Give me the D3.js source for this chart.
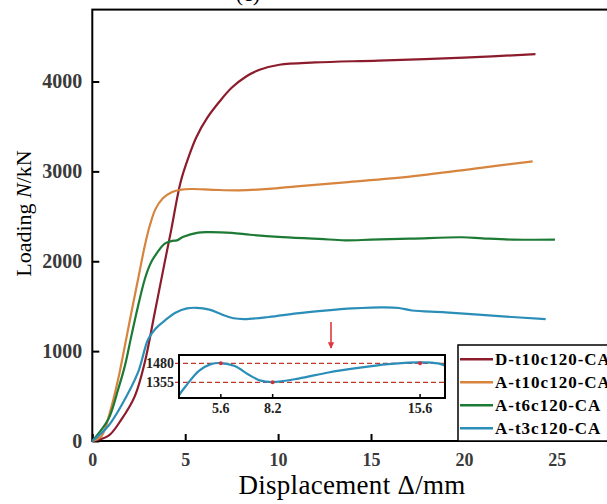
<!DOCTYPE html>
<html>
<head>
<meta charset="utf-8">
<script src="https://cdn.jsdelivr.net/npm/d3@7"></script>
<style>
  body { margin: 0; background: #fff; }
  svg { display: block; }
</style>
</head>
<body>
<div id="chart"></div>
<script>
// series names and colours
var seriesNames = ["D-t10c120-CA", "A-t10c120-CA", "A-t6c120-CA", "A-t3c120-CA"];
var seriesColors = ["#8c1c2c", "#d6843e", "#1d7a34", "#2a8eb8"];

// [displacement mm, load kN]
var dT10 = [[0,0],[0.86,56],[1.57,241],[2.29,500],[2.82,871],[3.36,1427],[3.89,1982],[4.25,2352],[4.75,2880],
  [5.2,3170],[5.6,3380],[6.2,3600],[6.86,3780],[7.5,3930],[8.28,4056],[9,4130],[10.07,4186],[12,4212],
  [15.4,4233],[20,4265],[23.85,4304]];
var aT10 = [[0,0],[0.5,56],[0.95,319],[1.39,686],[1.75,1056],[2.1,1427],[2.46,1797],[2.82,2167],[3.1,2400],
  [3.4,2580],[3.8,2700],[4.3,2770],[4.8,2796],[5.3,2804],[6.5,2795],[7.9,2789],[9.5,2805],[11,2833],
  [13.6,2878],[17.2,2944],[20.8,3037],[23.7,3111]];
var aT6 = [[0,0],[0.86,241],[1.39,574],[1.75,833],[2.1,1167],[2.46,1500],[2.82,1797],[3.1,1960],[3.36,2056],
  [3.9,2195],[4.3,2226],[4.55,2232],[4.9,2272],[5.7,2318],[6.2,2324],[7.5,2316],[8.5,2295],[10,2271],
  [12.2,2249],[13.6,2233],[15,2240],[17.2,2252],[19.9,2267],[21,2255],[22.6,2241],[24.9,2241]];
var aT3 = [[0,0],[0.86,167],[1.55,389],[2.46,763],[3,1130],[3.4,1250],[3.9,1340],[4.5,1430],[5.1,1475],
  [5.6,1482],[6.3,1462],[7,1405],[7.6,1366],[8.2,1357],[9.5,1380],[11,1420],[12.5,1450],[14,1475],
  [15,1485],[15.6,1487],[16.5,1480],[17.2,1452],[19,1432],[21.7,1392],[24.4,1355]];
var allSeries = [dT10, aT10, aT6, aT3];

var xTicks = [0, 5, 10, 15, 20, 25];
var yTicks = [0, 1000, 2000, 3000, 4000];

// inset: marked points on A-t3c120-CA
var insetTicks = [5.6, 8.2, 15.6];
var insetLevels = [1480, 1355];
var insetMarks = [[5.6,1480],[8.2,1355],[15.6,1480]];

var svgWidth = 607;
var svgHeight = 504;
var serif = "Liberation Serif";

var svg = d3.select("#chart")
  .append("svg")
  .attr("width", svgWidth)
  .attr("height", svgHeight)
  .attr("font-family", serif);

var x = d3.scaleLinear().domain([0, 28.4]).range([92.3, 620]);
var y = d3.scaleLinear().domain([0, 4800]).range([441, 9.6]);

var line = d3.line()
  .x(d => x(d[0]))
  .y(d => y(d[1]))
  .curve(d3.curveCatmullRom.alpha(0.5));

// frame (runs off the right side of the picture)
svg.append("rect")
  .attr("x", x(0)).attr("y", y(4800))
  .attr("width", x(28.4) - x(0)).attr("height", y(0) - y(4800))
  .attr("fill", "none").attr("stroke", "#000").attr("stroke-width", 2);

// title, cropped at the top
svg.append("text")
  .attr("x", 248).attr("y", 1)
  .attr("text-anchor", "middle")
  .attr("font-size", 22)
  .text("(c)");

// axes with inward ticks
var bottomAxis = d3.axisBottom(x).tickValues(xTicks).tickFormat(d3.format("d"))
  .tickSizeInner(-7).tickSizeOuter(0).tickPadding(12);
var leftAxis = d3.axisLeft(y).tickValues(yTicks).tickFormat(d3.format("d"))
  .tickSizeInner(-7).tickSizeOuter(0).tickPadding(10);

var gx = svg.append("g").attr("transform", `translate(0, ${y(0)})`).call(bottomAxis);
var gy = svg.append("g").attr("transform", `translate(${x(0)}, 0)`).call(leftAxis);
[gx, gy].forEach(g => {
  g.attr("font-family", serif);
  g.select(".domain").remove();
  g.selectAll("line").attr("stroke", "#000").attr("stroke-width", 2);
  g.selectAll("text")
    .attr("font-weight", "bold")
    .attr("fill", "#3a3a3a");
});
gx.selectAll("text").attr("font-size", 18);
gy.selectAll("text").attr("font-size", 20).attr("dy", "0.32em");

// curves
svg.selectAll(".curve")
  .data(allSeries)
  .enter()
  .append("path")
  .attr("class", "curve")
  .attr("d", line)
  .attr("fill", "none")
  .attr("stroke", (d, i) => seriesColors[i])
  .attr("stroke-width", 2.2);

// axis titles
svg.append("text")
  .attr("x", 352).attr("y", 494)
  .attr("text-anchor", "middle")
  .attr("font-size", 27)
  .attr("letter-spacing", 0.3)
  .text("Displacement \u0394/mm");

var yt = svg.append("text")
  .attr("transform", "translate(31,213.5) rotate(-90)")
  .attr("text-anchor", "middle")
  .attr("font-size", 22);
yt.append("tspan").text("Loading ");
yt.append("tspan").attr("font-style", "italic").text("N");
yt.append("tspan").text("/kN");

// red arrow pointing at the inset region
svg.append("defs").append("marker")
  .attr("id", "arrow")
  .attr("viewBox", "0 0 10 10")
  .attr("refX", 9).attr("refY", 5)
  .attr("markerWidth", 4).attr("markerHeight", 5)
  .attr("orient", "auto")
  .append("path").attr("d", "M0,0 L10,5 L0,10 z").attr("fill", "#e0383c");
svg.append("line")
  .attr("x1", 331).attr("x2", 331)
  .attr("y1", 322).attr("y2", 348)
  .attr("stroke", "#e0383c").attr("stroke-width", 1.6)
  .attr("marker-end", "url(#arrow)");

// inset
var ix = d3.scaleLinear().domain([3.5, 16.85]).range([179, 445]);
var iy = d3.scaleLinear().domain([1252, 1535]).range([398, 355]);

var inset = svg.append("g");
inset.append("clipPath").attr("id", "insetClip")
  .append("rect").attr("x", 179).attr("y", 355).attr("width", 266).attr("height", 43);
inset.append("rect")
  .attr("x", 179).attr("y", 355).attr("width", 266).attr("height", 43)
  .attr("fill", "#fff");

inset.selectAll(".level")
  .data(insetLevels)
  .enter()
  .append("line")
  .attr("class", "level")
  .attr("x1", 175).attr("x2", 445)
  .attr("y1", d => iy(d)).attr("y2", d => iy(d))
  .attr("stroke", "#c0392b").attr("stroke-width", 1.3)
  .attr("stroke-dasharray", "5,3");

var insetLine = d3.line()
  .x(d => ix(d[0]))
  .y(d => iy(d[1]))
  .curve(d3.curveCatmullRom.alpha(0.5));
inset.append("path")
  .attr("d", insetLine(aT3))
  .attr("clip-path", "url(#insetClip)")
  .attr("fill", "none")
  .attr("stroke", seriesColors[3])
  .attr("stroke-width", 2.2);

inset.selectAll(".mark")
  .data(insetMarks)
  .enter()
  .append("circle")
  .attr("cx", d => ix(d[0])).attr("cy", d => iy(d[1]))
  .attr("r", 2).attr("fill", "#d0303a");

inset.append("rect")
  .attr("x", 179).attr("y", 355).attr("width", 266).attr("height", 43)
  .attr("fill", "none").attr("stroke", "#000").attr("stroke-width", 2);

inset.selectAll(".itick")
  .data(insetTicks)
  .enter()
  .append("line")
  .attr("x1", d => ix(d)).attr("x2", d => ix(d))
  .attr("y1", 398).attr("y2", 394)
  .attr("stroke", "#000").attr("stroke-width", 1.5);

inset.selectAll(".ilabel")
  .data(insetTicks)
  .enter()
  .append("text")
  .attr("x", d => ix(d)).attr("y", 413)
  .attr("text-anchor", "middle")
  .attr("font-size", 14).attr("font-weight", "bold").attr("fill", "#222")
  .text(d => d);

inset.selectAll(".ylabel")
  .data(insetLevels)
  .enter()
  .append("text")
  .attr("x", 174).attr("y", d => iy(d))
  .attr("dy", "0.33em")
  .attr("text-anchor", "end")
  .attr("font-size", 14).attr("font-weight", "bold").attr("fill", "#222")
  .text(d => d);

// legend (box runs off to the right)
var legend = svg.append("g");
legend.append("rect")
  .attr("x", 458).attr("y", 345).attr("width", 200).attr("height", y(0) - 345)
  .attr("fill", "#fff").attr("stroke", "#000").attr("stroke-width", 1.5);

var rows = legend.selectAll(".row")
  .data(seriesNames)
  .enter()
  .append("g")
  .attr("transform", (d, i) => `translate(0, ${359.3 + i * 23})`);
rows.append("line")
  .attr("x1", 460).attr("x2", 493)
  .attr("stroke", (d, i) => seriesColors[i]).attr("stroke-width", 2.5);
rows.append("text")
  .attr("x", 495).attr("dy", "0.35em")
  .attr("font-size", 17).attr("font-weight", "bold")
  .attr("letter-spacing", 1)
  .text(d => d);

// every text gets the serif face directly
svg.selectAll("text").attr("font-family", serif);
</script>
</body>
</html>
